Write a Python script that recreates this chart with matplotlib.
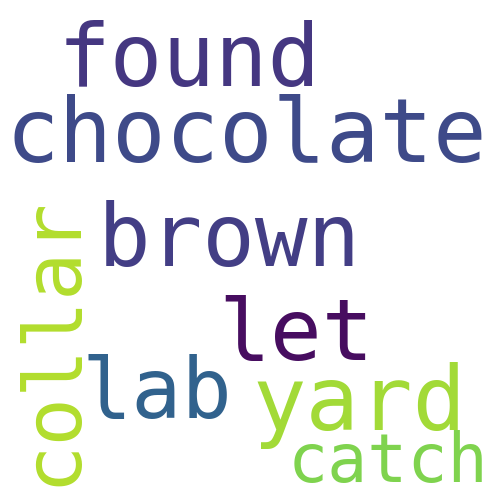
import matplotlib
matplotlib.use("Agg")
import matplotlib.pyplot as plt

# word cloud content
words = ["found", "chocolate", "brown", "let", "lab", "yard", "catch", "collar"]
sizes = [63, 64, 63, 62, 60, 64, 48, 58]
colors = ["#453781", "#3e4a89", "#433e85", "#470d60", "#31628d", "#a2da37", "#7fd34e", "#b2dd2d"]

# layout (pixel positions of baseline start, rotation)
layout = [(58, 86, 0), (6, 162, 0), (98, 266, 0), (218, 360, 0),
          (82, 418, 0), (252, 430, 0), (288, 482, 0), (74, 486, 90)]

fig = plt.figure(figsize=(5, 5), dpi=100)
ax = fig.add_axes([0, 0, 1, 1])
ax.set_xlim(0, 500)
ax.set_ylim(500, 0)
ax.axis("off")

for w, s, c, (x, y, r) in zip(words, sizes, colors, layout):
    ax.text(x, y, w, fontsize=s, color=c, family="DejaVu Sans Mono",
            ha="left", va="baseline", rotation=r, rotation_mode="anchor")

plt.savefig("out.png", dpi=100, facecolor="white")
